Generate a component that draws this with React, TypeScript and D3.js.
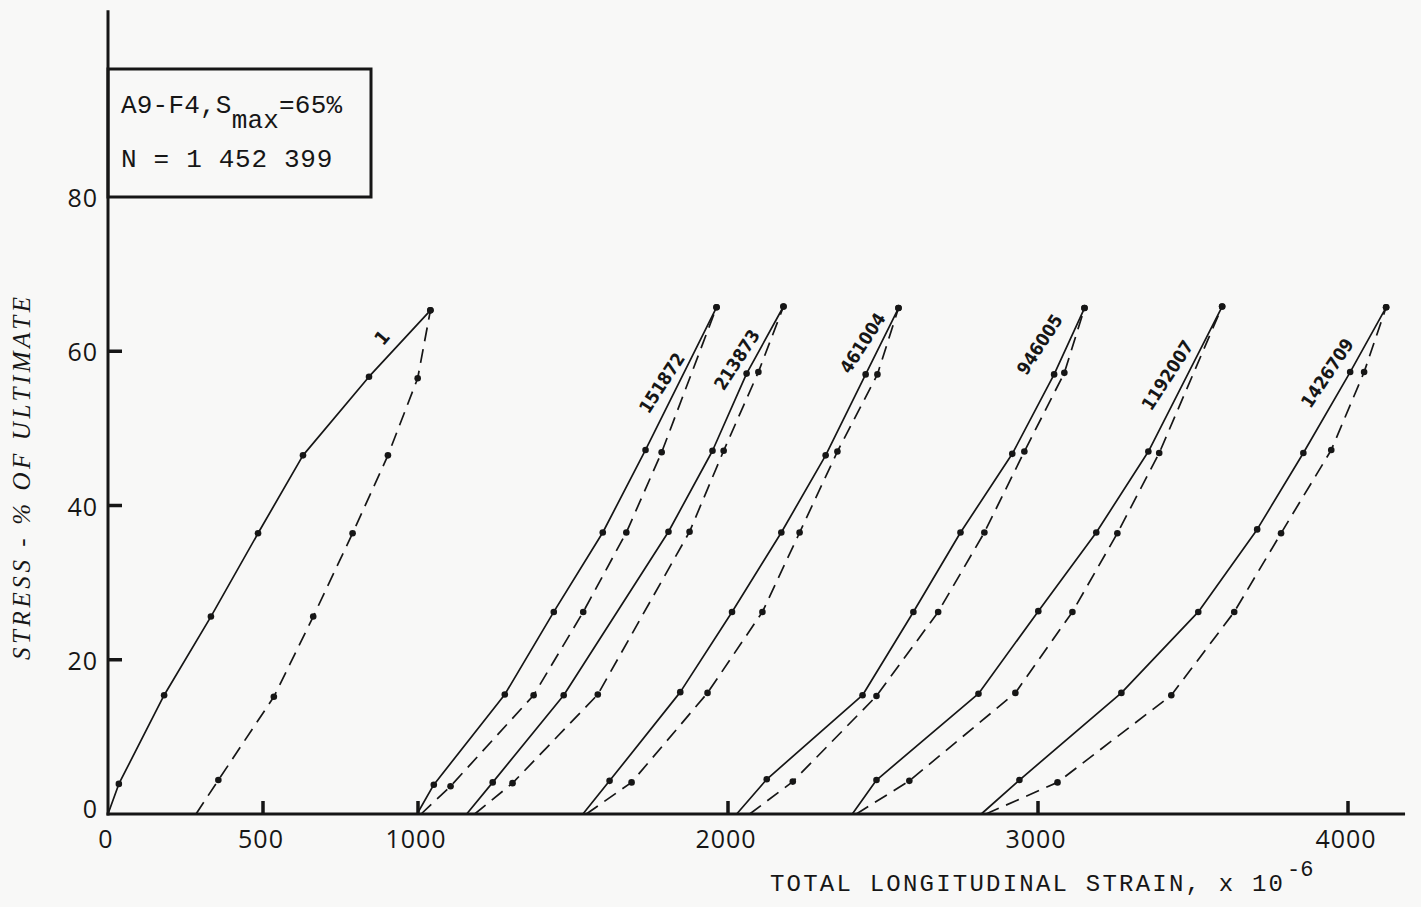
import React from "react";
import * as d3 from "d3";

type P = [number, number];

// tick values
const xTickLabels = [0, 500, 1000, 2000, 3000, 4000];
const xTickMarks = [500, 1000, 2000, 3000, 4000];
const yTickLabels = [0, 20, 40, 60, 80];
const yTickMarks = [20, 40, 60];

// cycle numbers (curve labels)
const cycleNames = ["1", "151872", "213873", "461004", "946005", "1192007", "1426709"];

// loading branches (solid) : [strain x1e-6, stress %]
const load1: P[] = [[0, 0], [35, 3.9], [181, 15.4], [332, 25.6], [484, 36.4], [629, 46.5], [842, 56.7], [1040, 65.3]];
const load151872: P[] = [[997, 0], [1051, 3.8], [1280, 15.5], [1438, 26.2], [1596, 36.5], [1734, 47.2], [1963, 65.7]];
const load213873: P[] = [[1157, 0], [1241, 4.1], [1470, 15.4], [1808, 36.6], [1950, 47.1], [2060, 57.1], [2179, 65.8]];
const load461004: P[] = [[1532, 0], [1618, 4.3], [1846, 15.8], [2013, 26.2], [2172, 36.5], [2315, 46.5], [2444, 57.0], [2550, 65.6]];
const load946005: P[] = [[2028, 0], [2125, 4.5], [2434, 15.4], [2598, 26.2], [2750, 36.5], [2917, 46.7], [3052, 57.0], [3150, 65.6]];
const load1192007: P[] = [[2401, 0], [2479, 4.4], [2808, 15.6], [3001, 26.3], [3188, 36.5], [3356, 47.0], [3594, 65.8]];
const load1426709: P[] = [[2817, 0], [2940, 4.4], [3269, 15.7], [3517, 26.2], [3707, 36.9], [3856, 46.8], [4007, 57.3], [4123, 65.7]];

// unloading branches (dashed)
const unload1: P[] = [[284, 0], [356, 4.4], [535, 15.2], [662, 25.6], [789, 36.4], [903, 46.5], [999, 56.5], [1040, 65.3]];
const unload151872: P[] = [[1010, 0], [1105, 3.6], [1373, 15.4], [1533, 26.2], [1672, 36.5], [1786, 46.9], [1963, 65.7]];
const unload213873: P[] = [[1183, 0], [1305, 4.0], [1580, 15.5], [1876, 36.6], [1986, 47.1], [2098, 57.3], [2179, 65.8]];
const unload461004: P[] = [[1543, 0], [1689, 4.1], [1934, 15.7], [2111, 26.2], [2231, 36.5], [2353, 47.0], [2482, 57.0], [2550, 65.6]];
const unload946005: P[] = [[2070, 0], [2209, 4.2], [2479, 15.3], [2678, 26.2], [2827, 36.5], [2956, 47.0], [3085, 57.2], [3150, 65.6]];
const unload1192007: P[] = [[2414, 0], [2585, 4.3], [2927, 15.7], [3111, 26.2], [3256, 36.4], [3391, 46.8], [3594, 65.8]];
const unload1426709: P[] = [[2832, 0], [3063, 4.1], [3430, 15.4], [3633, 26.2], [3784, 36.4], [3946, 47.2], [4052, 57.3], [4123, 65.7]];

// curve label anchors [strain, stress, rotation deg]
const labelAnchors: [number, number, number][] = [
  [883, 61.8, -50],
  [1786, 55.9, -57],
  [2028, 58.9, -57],
  [2434, 61.1, -57],
  [3005, 60.9, -57],
  [3417, 56.9, -57],
  [3933, 57.2, -56],
];

const loadSeries = [load1, load151872, load213873, load461004, load946005, load1192007, load1426709];
const unloadSeries = [unload1, unload151872, unload213873, unload461004, unload946005, unload1192007, unload1426709];

const W = 1421;
const H = 907;

export default function App() {
  const x = d3.scaleLinear().domain([0, 4000]).range([108, 1348]);
  const y = d3.scaleLinear().domain([0, 80]).range([814, 197]);
  const line = d3
    .line<P>()
    .x((d) => x(d[0]))
    .y((d) => y(d[1]))
    .curve(d3.curveLinear);

  const xMaxVal = 4184;
  const yMaxVal = 104.2;
  const mono = "'Liberation Mono', 'DejaVu Sans Mono', monospace";
  const tickFont = "'Open Sans', 'DejaVu Sans', sans-serif";
  const ink = "#161616";

  return (
    <svg
      width={W}
      height={H}
      style={{ position: "absolute", left: 0, top: 0 }}
      xmlns="http://www.w3.org/2000/svg"
    >
      <rect x={0} y={0} width={W} height={H} fill="#f8f8f7" />

      {/* curves */}
      {loadSeries.map((s, i) => (
        <path key={"l" + i} d={line(s) || ""} fill="none" stroke={ink} strokeWidth={1.7} strokeLinejoin="round" />
      ))}
      {unloadSeries.map((s, i) => (
        <path
          key={"u" + i}
          d={line(s) || ""}
          fill="none"
          stroke={ink}
          strokeWidth={1.7}
          strokeDasharray="14 8"
          strokeLinejoin="round"
        />
      ))}
      {/* markers */}
      {loadSeries.concat(unloadSeries).map((s, i) =>
        s
          .filter((p) => p[1] > 0)
          .map((p, j) => (
            <circle key={"m" + i + "-" + j} cx={x(p[0])} cy={y(p[1])} r={3.3} fill={ink} />
          ))
      )}

      {/* curve labels */}
      {labelAnchors.map((a, i) => (
        <text
          key={"lab" + i}
          transform={`translate(${x(a[0])},${y(a[1])}) rotate(${a[2]})`}
          textAnchor="middle"
          dominantBaseline="central"
          fontFamily="'DejaVu Sans Condensed', 'DejaVu Sans', sans-serif"
          fontStretch="condensed"
          fontWeight="bold"
          fontSize={i === 0 ? 19 : 18}
          fill={ink}
        >
          {cycleNames[i]}
        </text>
      ))}

      {/* axes */}
      <line x1={x(0)} x2={x(0)} y1={y(0) + 1.5} y2={y(yMaxVal)} stroke={ink} strokeWidth={3} />
      <line x1={x(0) - 1.5} x2={x(xMaxVal)} y1={y(0)} y2={y(0)} stroke={ink} strokeWidth={3} />
      {yTickMarks.map((v) => (
        <line key={"yt" + v} x1={x(0)} x2={x(0) + 14} y1={y(v)} y2={y(v)} stroke={ink} strokeWidth={3.5} />
      ))}
      {xTickMarks.map((v) => (
        <line key={"xt" + v} x1={x(v)} x2={x(v)} y1={y(0)} y2={y(0) - 13} stroke={ink} strokeWidth={3.5} />
      ))}
      {yTickLabels.map((v) => (
        <text
          key={"yl" + v}
          x={x(0) - 10}
          y={y(v) + (v === 0 ? -6 : 0)}
          textAnchor="end"
          dominantBaseline="central"
          fontFamily={tickFont}
          fontSize={25}
          letterSpacing={1}
          fill={ink}
        >
          {v}
        </text>
      ))}
      {xTickLabels.map((v) => (
        <text
          key={"xl" + v}
          x={x(v) - 2}
          y={y(0) + 24}
          textAnchor="middle"
          dominantBaseline="central"
          fontFamily={tickFont}
          fontSize={25}
          letterSpacing={1}
          fill={ink}
        >
          {v}
        </text>
      ))}

      {/* info box */}
      <rect x={x(0)} y={69} width={263} height={y(80) - 69} fill="none" stroke={ink} strokeWidth={3} />
      <text x={121} y={113} fontFamily={mono} fontSize={26} letterSpacing={0.2} fill={ink}>
        A9-F4,S
        <tspan dy={15}>max</tspan>
        <tspan dy={-15}>=65%</tspan>
      </text>
      <text x={121} y={167} fontFamily={mono} fontSize={26} letterSpacing={0.7} fill={ink}>
        N = 1 452 399
      </text>

      {/* axis titles */}
      <text
        x={770}
        y={891}
        fontFamily={mono}
        fontSize={24}
        textLength={513}
        lengthAdjust="spacing"
        fill={ink}
      >
        TOTAL LONGITUDINAL STRAIN, x 10
      </text>
      <text x={1287} y={876} fontFamily={mono} fontSize={22} fill={ink}>
        -6
      </text>
      <text
        transform={`translate(30,${(297 + 660) / 2}) rotate(-90)`}
        textAnchor="middle"
        fontFamily="'Liberation Serif', 'DejaVu Serif', serif"
        fontStyle="italic"
        fontSize={25}
        textLength={363}
        lengthAdjust="spacing"
        fill={ink}
      >
        STRESS - % OF ULTIMATE
      </text>
    </svg>
  );
}
